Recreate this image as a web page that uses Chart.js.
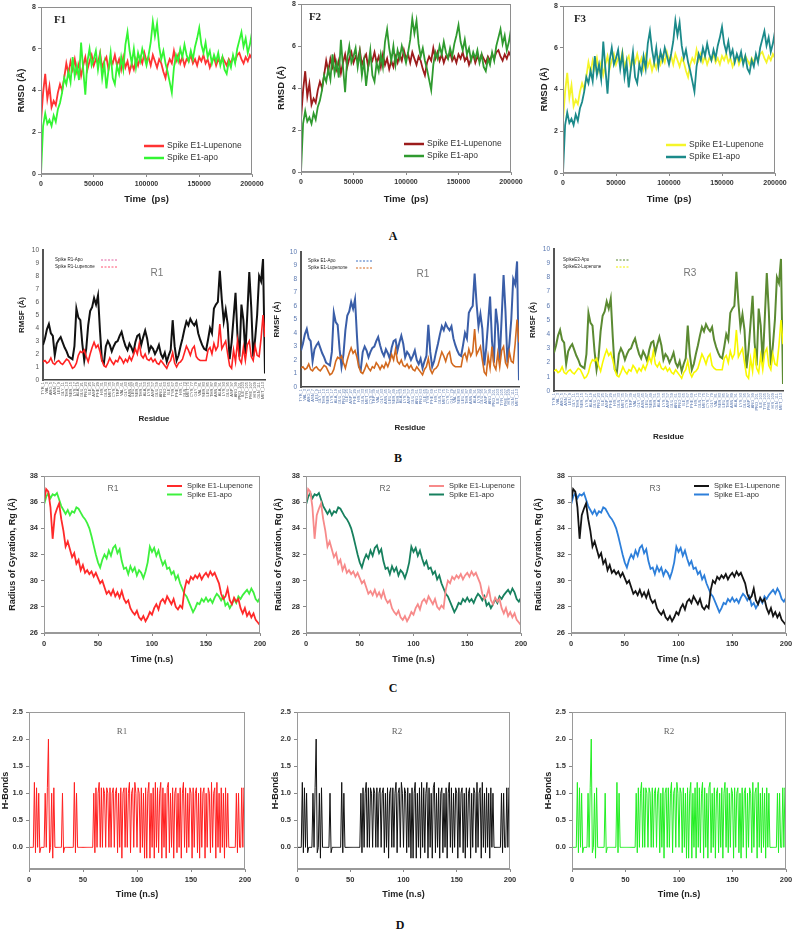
<!DOCTYPE html>
<html>
<head>
<meta charset="utf-8">
<script src="https://cdn.jsdelivr.net/npm/chart.js@4"></script>
<style>
  body { margin: 0; background: #fff; width: 800px; height: 941px; position: relative; overflow: hidden; }
  canvas { position: absolute; }
  .fig { position: absolute; font-family: "Liberation Serif", serif; font-weight: bold; font-size: 12px; color: #111; transform: translate(-50%, -50%); }
</style>
</head>
<body>
<div class="fig" style="left:393px;top:236px">A</div>
<div class="fig" style="left:398px;top:458px">B</div>
<div class="fig" style="left:393px;top:688px">C</div>
<div class="fig" style="left:400px;top:925px">D</div>
<script>
// ---- RMSD (ps), one value every 2000 ps
const rmsdStep = 2000;
const rmsdLupenone = [
  2.5, 3.9, 4.8, 3.6, 4.2, 3.2, 3.5, 3.3, 3.9, 4.3,
  4.0, 4.6, 5.3, 4.8, 5.4, 5.0, 5.5, 4.9, 5.3, 4.7,
  5.2, 5.6, 5.0, 5.4, 5.7, 5.2, 5.5, 5.3, 5.8, 5.1,
  5.4, 5.6, 5.0, 5.5, 5.3, 5.7, 5.2, 5.5, 5.0, 5.6,
  5.1, 5.4, 4.9, 5.3, 5.0, 5.5, 5.2, 5.6, 5.3, 5.8,
  5.4, 5.6, 5.2, 5.7, 5.4, 5.1, 5.5, 5.3, 4.9, 4.6,
  5.2, 5.5, 5.3, 5.9, 5.4, 5.7, 5.3, 5.6, 5.2, 5.5,
  5.4, 5.7, 5.3, 5.5, 5.2, 5.6, 5.4, 5.7, 5.3, 5.5,
  5.1, 5.4, 5.6, 5.2, 5.5, 5.3, 5.6, 5.4, 5.2, 5.5,
  5.3, 5.6, 5.4, 5.7, 5.8, 5.5, 5.3, 5.6, 5.4, 5.7,
  5.5
];
const rmsdApo = [
  0.0, 2.3, 2.9, 2.4, 2.6, 2.3, 2.8, 2.5, 3.1, 3.4,
  3.9, 4.6, 4.3, 4.9, 4.4, 5.6, 4.7, 5.2, 4.5, 6.3,
  5.0, 3.8, 5.4, 6.0, 5.2, 5.5, 5.9, 5.0, 5.7, 4.6,
  5.3, 4.1, 5.0, 5.8, 4.6, 4.3, 5.2, 4.8, 5.6, 5.0,
  6.2, 6.8, 5.9, 5.3, 6.0, 5.1, 5.8, 5.4, 6.0, 5.6,
  5.2, 5.7, 6.3, 7.3, 6.6, 7.2, 6.1, 5.5, 5.9, 5.3,
  4.9, 4.4, 3.9, 5.1, 5.7, 5.4, 6.0, 5.6, 6.2, 5.7,
  5.4, 5.9, 5.5, 6.1, 6.5, 7.0, 6.2, 5.8, 6.3, 5.6,
  5.9, 5.3, 5.7, 5.4, 5.8, 5.2, 5.6, 5.0, 4.8, 5.4,
  5.1, 5.7, 5.3, 6.0, 6.4, 6.8, 6.1, 6.5, 5.8, 6.2,
  6.8
];
const rmsdTimeTicks = [0, 50000, 100000, 150000, 200000];
const rmsdTicks = [0, 2, 4, 6, 8];

// ---- RMSF per residue
const residueNames = [
  'TYR_1', 'VAL_3', 'ARG_5', 'ASN_7', 'LEU_9', 'GLY_11', 'THR_13', 'SER_15', 'LYS_17', 'ALA_19',
  'GLU_21', 'PRO_23', 'ILE_25', 'ASP_27', 'PHE_29', 'HIS_31', 'GLN_33', 'MET_35', 'CYS_37', 'TRP_39',
  'VAL_41', 'GLY_43', 'ASN_45', 'LEU_47', 'SER_49', 'THR_51', 'ALA_53', 'LYS_55', 'ASP_57', 'GLU_59',
  'ARG_61', 'PRO_63', 'ILE_65', 'TYR_67', 'PHE_69', 'HIS_71', 'GLN_73', 'MET_75', 'CYS_77', 'GLY_79',
  'VAL_81', 'SER_83', 'LEU_85', 'THR_87', 'ASN_89', 'ALA_91', 'LYS_93', 'GLU_95', 'ASP_97', 'ARG_99',
  'PRO_101', 'ILE_103', 'TYR_105', 'PHE_107', 'HIS_109', 'GLN_111', 'MET_113'
];
const rmsfApo = [
  2.7, 3.2, 3.9, 4.3, 3.6, 3.4, 1.9, 2.8, 3.1, 3.3,
  2.9, 2.5, 2.2, 1.8, 1.7, 1.6, 2.6, 5.5, 4.8, 4.6,
  2.8, 1.5, 2.4, 4.2, 5.3, 5.6, 6.3, 5.8, 6.5, 3.8,
  1.5, 1.3, 2.6, 3.0, 2.7, 2.2, 2.6, 2.9, 3.0, 3.4,
  3.7, 3.1, 2.6, 2.3, 2.8, 2.5, 2.1, 2.9, 3.4, 3.5,
  2.7, 3.3, 3.8, 3.2, 2.2, 2.6, 2.4, 2.0, 2.3, 2.7,
  2.0, 1.7, 2.1, 1.4, 1.9, 2.3, 4.6, 2.6, 1.5, 1.9,
  2.6, 3.2, 3.9, 4.5, 4.2, 4.7, 4.4, 4.2, 4.5, 3.6,
  3.1, 2.7, 2.4, 2.3, 3.1, 4.0, 3.6, 5.5, 5.8, 6.0,
  8.4, 6.2, 4.5, 5.4, 4.3, 1.6, 2.9, 4.8, 6.7, 3.4,
  1.8, 5.8, 4.6, 2.0, 5.1, 8.3, 5.6, 1.8, 3.2, 5.0,
  8.0, 7.6, 9.3, 0.5
];
const rmsfLupenone = [
  1.4, 1.5, 1.3, 1.4, 1.7, 1.3, 1.2, 1.4, 1.5, 1.3,
  1.2, 1.4, 1.6, 1.5, 1.2, 0.9, 1.0, 1.3, 1.9, 2.2,
  2.1, 2.3, 1.8, 1.4, 2.0, 2.5, 2.9, 2.5, 2.7, 2.2,
  1.5, 1.1, 1.0, 1.3, 1.7, 1.4, 1.2, 1.5, 1.4, 1.8,
  1.6, 1.3, 1.6, 1.4, 1.8, 1.5, 1.9, 2.4, 2.0, 2.8,
  1.9, 1.7, 2.0, 1.6, 1.5, 1.7, 1.4, 1.6, 1.3, 1.2,
  1.5, 1.3, 1.1, 0.9, 1.3, 1.5, 2.1, 1.3, 1.0, 1.3,
  1.4, 1.6, 2.1, 2.6, 2.3, 1.9, 2.4, 2.6, 1.8, 1.6,
  1.5, 1.5, 1.5, 1.5, 2.3, 2.5, 2.0, 2.8, 2.3, 2.6,
  4.3, 2.4, 2.7, 3.0, 2.0, 1.1, 0.9, 2.3, 1.4, 3.0,
  1.6, 1.3, 2.5, 1.5, 2.7, 3.0, 1.8, 1.5, 2.6, 1.9,
  1.8, 3.2, 5.0, 3.3
];
const rmsfTicks = [0, 1, 2, 3, 4, 5, 6, 7, 8, 9, 10];

// ---- Radius of gyration (n.s), one value every 2 ns
const rgStep = 2;
const rgLupenone = [
  36.0, 37.0, 36.8, 35.6, 33.2, 35.0, 35.5, 35.9, 34.7, 33.8,
  32.6, 33.0, 32.4, 31.8, 32.1, 31.3, 31.6, 30.8, 31.2, 30.6,
  30.8, 30.5, 30.7, 30.3, 30.6, 30.2, 29.8, 30.0, 29.5, 29.0,
  29.2, 28.9, 29.3, 28.8, 29.1, 28.7, 29.2, 28.6, 28.3, 28.5,
  27.9, 27.6, 27.4, 27.7, 27.2, 27.0, 27.3, 26.9, 27.2, 27.6,
  27.4, 27.9, 28.2, 27.8, 28.4, 28.6, 28.3, 28.8, 28.5, 28.2,
  28.6, 28.0, 27.8, 28.1, 27.9, 29.3, 30.0, 29.8, 30.3, 30.1,
  30.4, 30.2, 30.5, 30.1, 30.4, 30.6, 30.3, 30.7, 30.4, 30.6,
  30.2, 29.8, 29.0, 28.6, 28.8, 29.4, 28.5, 28.2, 28.7, 28.4,
  28.6, 27.9, 27.5, 27.9, 27.3, 27.6, 27.2, 27.5, 27.0, 26.8,
  26.6
];
const rgApo = [
  35.8, 36.4, 36.7, 36.3, 36.6, 36.5, 36.7, 36.2, 35.7, 35.4,
  35.1, 35.4, 35.0, 35.3, 35.2, 35.6, 35.5, 35.2, 34.9, 34.7,
  34.4, 34.0, 33.4, 32.7, 32.0, 31.4, 31.0, 31.6, 32.0, 31.7,
  32.3, 31.9, 32.5, 32.7, 32.1, 32.4, 31.5, 30.9, 31.0, 30.5,
  31.1, 30.7, 31.0, 30.4, 30.8, 30.6, 30.2, 30.7, 31.4, 32.6,
  32.2, 32.5, 31.9, 32.3, 31.7, 31.2, 31.5, 30.9, 31.0, 30.5,
  30.7, 30.1, 30.4, 29.8, 29.4, 29.0, 28.8, 28.4, 28.0, 27.6,
  27.9, 28.3, 28.2, 28.6, 28.4, 28.7, 28.4, 28.6, 28.3, 28.7,
  29.0, 28.8, 28.5, 28.8, 28.1, 28.3, 27.9, 28.2, 28.6, 28.3,
  28.8, 28.6, 28.9, 29.1, 29.3, 29.0, 29.4, 29.1, 28.6, 28.4,
  28.7
];
const rgTimeTicks = [0, 50, 100, 150, 200];
const rgTicks = [26, 28, 30, 32, 34, 36, 38];

// ---- H-bonds (n.s), one value every 1 ns
const hbStep = 1;
const hbonds = [
  0, 0, 0, 0, 0, 1.2, -0.1, 1.1, 0, 1.0,
  -0.1, 0, 0, 0, 0, 1.0, 0, 1.1, 2.0, -0.1,
  0, 1.0, -0.2, 1.1, 0, 0, 0, 0, 0, 0,
  0, 1.0, -0.1, 0, 0, 0, 0, 0, 0, 0,
  0, 0, 1.2, -0.1, 1.0, 0, 0, 0, 0, 0,
  0, 0, 0, 0, 0, 0, 0, 0, 0, 0,
  1.0, -0.1, 1.1, 0, 1.0, 1.2, 0, 1.1, 0, 1.1,
  1.0, 0, 1.1, 1.0, 0, 1.1, 0, 1.0, 1.1, 0,
  1.0, 1.1, -0.1, 1.0, 0, 1.1, -0.2, 1.0, 1.1, 0,
  1.1, 0, 1.0, 1.2, -0.1, 1.0, 1.1, 0, 1.2, 1.0,
  0, 1.1, 1.0, -0.1, 1.1, 0, 1.0, -0.2, 1.1, -0.2,
  1.0, 1.2, -0.2, 1.0, 0, 1.1, -0.2, 1.2, 0, 1.1,
  -0.1, 1.0, 1.2, -0.2, 1.1, 0, 1.0, -0.2, 1.1, 1.2,
  -0.1, 1.0, 0, 1.1, -0.2, 1.0, 1.1, -0.1, 1.0, 0,
  1.1, -0.2, 1.0, 1.2, 0, 1.1, -0.1, 1.0, 0, 1.1,
  1.0, -0.2, 1.1, 0, 1.0, 1.1, -0.1, 1.0, -0.2, 1.1,
  0, 1.0, 1.1, -0.2, 1.0, 0, 1.1, 1.0, -0.1, 1.2,
  0, 1.0, 1.1, -0.2, 1.2, 0, 1.0, -0.1, 1.1, 0,
  1.0, -0.2, 1.1, 0, 1.0, 0, 0, 0, 0, 0,
  0, 0, 1.0, -0.1, 1.0, 0, 0, 1.1, 0, 1.1,
  1.0
];
const hbTimeTicks = [0, 50, 100, 150, 200];
const hbTicks = [0, 0.5, 1.0, 1.5, 2.0, 2.5];

const SANS = '"Liberation Sans", Arial, sans-serif';
const SERIF = '"Liberation Serif", "Times New Roman", serif';

function toPoints(values, step) {
  return values.map((v, i) => ({ x: i * step, y: v }));
}

// frame, panel tag and in-plot legend
const deco = {
  id: 'deco',
  afterDatasetsDraw(chart, args, o) {
    const ctx = chart.ctx, a = chart.chartArea;
    ctx.save();
    if (o.frame) {
      ctx.strokeStyle = o.frame;
      ctx.lineWidth = 1;
      ctx.strokeRect(a.left + 0.5, a.top + 0.5, a.right - a.left - 1, a.bottom - a.top - 1);
    }
    if (o.tag) {
      ctx.font = o.tag.font;
      ctx.fillStyle = o.tag.color;
      ctx.textAlign = 'center';
      ctx.textBaseline = 'middle';
      ctx.fillText(o.tag.text, a.left + o.tag.x, a.top + o.tag.y);
    }
    if (o.legend) {
      const lg = o.legend;
      lg.items.forEach((it, k) => {
        const y = a.top + lg.y + k * lg.gap;
        ctx.strokeStyle = it.color;
        ctx.lineWidth = lg.lineWidth;
        ctx.setLineDash(lg.dash || []);
        ctx.beginPath();
        ctx.moveTo(a.left + lg.x0, y);
        ctx.lineTo(a.left + lg.x1, y);
        ctx.stroke();
        ctx.setLineDash([]);
        ctx.font = lg.font;
        ctx.fillStyle = lg.color;
        ctx.textAlign = 'left';
        ctx.textBaseline = 'middle';
        ctx.fillText(it.text, a.left + lg.tx, y);
      });
    }
    ctx.restore();
  }
};

function axis(cfg, size, horizontal) {
  return {
    type: 'linear',
    min: cfg.min, max: cfg.max,
    afterFit: s => { if (horizontal) s.height = size; else s.width = size; },
    afterBuildTicks: s => { s.ticks = cfg.ticks.map(v => ({ value: v })); },
    ticks: {
      autoSkip: false,
      font: cfg.tickFont,
      color: cfg.tickColor || '#333',
      padding: cfg.tickPad == null ? 2 : cfg.tickPad,
      minRotation: cfg.rot || 0,
      maxRotation: cfg.rot || 0,
      callback: cfg.fmt || (v => String(v))
    },
    grid: { display: true, drawOnChartArea: false, drawTicks: cfg.tickLen > 0, tickLength: cfg.tickLen || 0, color: cfg.tickMark || '#888' },
    border: { display: true, color: cfg.line || '#999', width: cfg.lineWidth || 1 },
    title: { display: true, text: cfg.title, font: cfg.titleFont, color: '#222', padding: 0 }
  };
}

function makePanel(p) {
  const c = document.createElement('canvas');
  c.width = p.R - p.L + p.l + p.r;
  c.height = p.B - p.T + p.t + p.b;
  c.style.left = (p.L - p.l) + 'px';
  c.style.top = (p.T - p.t) + 'px';
  document.body.appendChild(c);
  new Chart(c, {
    type: 'line',
    data: { datasets: p.datasets },
    options: {
      responsive: false,
      animation: false,
      devicePixelRatio: 1,
      layout: { autoPadding: false, padding: { top: p.t, right: p.r, left: 0, bottom: 0 } },
      elements: { point: { radius: 0 }, line: { tension: 0 } },
      plugins: { legend: { display: false }, tooltip: { enabled: false }, deco: p.deco },
      scales: { x: axis(p.x, p.b, true), y: axis(p.y, p.l, false) }
    },
    plugins: [deco]
  });
}

function line(values, step, color, width) {
  return { data: toPoints(values, step), borderColor: color, borderWidth: width, pointRadius: 0, fill: false };
}

// ---- row A: RMSD
const tickFontA = { family: SANS, size: 7, weight: 'bold' };
const titleFontA = { family: SANS, size: 9.5, weight: 'bold' };
const rmsdPanels = [
  { L: 41, T: 7, R: 252, B: 174, l: 25, b: 31, tag: 'F1', tx: 19, colors: ['#ff3333', '#33f533'] },
  { L: 301, T: 4, R: 511, B: 172, l: 25, b: 33, tag: 'F2', tx: 14, colors: ['#9c1c1c', '#2f9a2f'] },
  { L: 563, T: 6, R: 775, B: 173, l: 24, b: 32, tag: 'F3', tx: 17, colors: ['#f5f52a', '#1b8a8a'] }
];
rmsdPanels.forEach(p => {
  const h = p.B - p.T;
  makePanel({
    L: p.L, T: p.T, R: p.R, B: p.B, l: p.l, t: 8, r: 20, b: p.b,
    datasets: [line(rmsdApo, rmsdStep, p.colors[1], 1.8), line(rmsdLupenone, rmsdStep, p.colors[0], 1.8)],
    x: { min: 0, max: 200000, ticks: rmsdTimeTicks, tickFont: tickFontA, tickLen: 3, tickPad: 3, title: 'Time  (ps)', titleFont: titleFontA },
    y: { min: 0, max: 8, ticks: rmsdTicks, tickFont: tickFontA, tickLen: 3, tickPad: 2, title: 'RMSD (Å)', titleFont: titleFontA },
    deco: {
      frame: '#8e8e8e',
      tag: { text: p.tag, x: p.tx, y: 13, font: 'bold 11px ' + SERIF, color: '#222' },
      legend: {
        x0: 103, x1: 123, tx: 126, y: h - 28, gap: 12, lineWidth: 2.5,
        font: '8.5px ' + SANS, color: '#333',
        items: [{ text: 'Spike E1-Lupenone', color: p.colors[0] }, { text: 'Spike E1-apo', color: p.colors[1] }]
      }
    }
  });
});

// ---- row B: RMSF
const rmsfPanels = [
  { L: 43, T: 250, R: 265, B: 380, l: 26, b: 44, tag: 'R1', tagX: 114, tagY: 23, tickColor: '#555',
    colors: ['#111111', '#ff2222'], legendColors: ['#e060a0', '#ff5070'],
    names: ['Spike R1-Apo', 'Spike R1-Lupenone'], lg: { tx: 12, x0: 58, x1: 75, y: 10 } },
  { L: 301, T: 252, R: 519, B: 387, l: 29, b: 46, tag: 'R1', tagX: 122, tagY: 22, tickColor: '#5a78b0',
    colors: ['#3a5ea8', '#d2691e'], legendColors: ['#3a6fc0', '#d2691e'],
    names: ['Spike E1-Apo', 'Spike E1-Lupenone'], lg: { tx: 7, x0: 55, x1: 72, y: 9 } },
  { L: 554, T: 249, R: 783, B: 391, l: 26, b: 51, tag: 'R3', tagX: 136, tagY: 24, tickColor: '#5a78b0',
    colors: ['#5b8a32', '#f8f800'], legendColors: ['#5b8a32', '#f0f000'],
    names: ['SpikeE3-Apo', 'SpikeE3-Lupenone'], lg: { tx: 9, x0: 62, x1: 76, y: 11 } }
];
const residueTickIdx = residueNames.map((n, k) => k * 2);
rmsfPanels.forEach(p => {
  makePanel({
    L: p.L, T: p.T, R: p.R, B: p.B, l: p.l, t: 8, r: 12, b: p.b,
    datasets: [line(rmsfLupenone, 1, p.colors[1], 1.6), line(rmsfApo, 1, p.colors[0], 2)],
    x: { min: 0, max: 113, ticks: residueTickIdx, rot: 90, tickFont: { family: SANS, size: 4 }, tickColor: p.tickColor,
         tickPad: 2, line: '#444', lineWidth: 1.5, fmt: v => residueNames[v / 2],
         title: 'Residue', titleFont: { family: SANS, size: 8, weight: 'bold' } },
    y: { min: 0, max: 10, ticks: rmsfTicks, tickFont: { family: SANS, size: 6.5 }, tickColor: p.tickColor, tickPad: 4,
         line: '#555', lineWidth: 2, title: 'RMSF (Å)', titleFont: { family: SANS, size: 8, weight: 'bold' } },
    deco: {
      tag: { text: p.tag, x: p.tagX, y: p.tagY, font: '10px ' + SANS, color: '#777' },
      legend: {
        x0: p.lg.x0, x1: p.lg.x1, tx: p.lg.tx, y: p.lg.y, gap: 7, lineWidth: 1, dash: [2, 1.5],
        font: '4.5px ' + SANS, color: '#222',
        items: [{ text: p.names[0], color: p.legendColors[0] }, { text: p.names[1], color: p.legendColors[1] }]
      }
    }
  });
});

// ---- row C: radius of gyration
const tickFontC = { family: SANS, size: 7.5, weight: 'bold' };
const titleFontC = { family: SANS, size: 9, weight: 'bold' };
const rgPanels = [
  { L: 44, R: 260, l: 37, tag: 'R1', tagX: 69, colors: ['#ff2a2a', '#3ef03e'] },
  { L: 306, R: 521, l: 33, tag: 'R2', tagX: 79, colors: ['#f78a8a', '#17805e'] },
  { L: 571, R: 786, l: 38, tag: 'R3', tagX: 84, colors: ['#141414', '#2d7fda'] }
];
rgPanels.forEach(p => {
  makePanel({
    L: p.L, T: 476, R: p.R, B: 633, l: p.l, t: 8, r: 14, b: 32,
    datasets: [line(rgLupenone, rgStep, p.colors[0], 1.8), line(rgApo, rgStep, p.colors[1], 1.8)],
    x: { min: 0, max: 200, ticks: rgTimeTicks, tickFont: tickFontC, tickLen: 3, tickPad: 3, title: 'Time (n.s)', titleFont: titleFontC },
    y: { min: 26, max: 38, ticks: rgTicks, tickFont: tickFontC, tickLen: 3, tickPad: 3, title: 'Radius of Gyration, Rg (Å)', titleFont: titleFontC },
    deco: {
      frame: '#9a9a9a',
      tag: { text: p.tag, x: p.tagX, y: 13, font: '8.5px ' + SANS, color: '#666' },
      legend: {
        x0: 123, x1: 138, tx: 143, y: 10, gap: 8.5, lineWidth: 2,
        font: '7.5px ' + SANS, color: '#333',
        items: [{ text: 'Spike E1-Lupenone', color: p.colors[0] }, { text: 'Spike E1-apo', color: p.colors[1] }]
      }
    }
  });
});

// ---- row D: H-bonds
const hbPanels = [
  { L: 29, R: 245, l: 29, tag: 'R1', tagX: 93, color: '#ff1f1f' },
  { L: 297, R: 510, l: 27, tag: 'R2', tagX: 100, color: '#111111' },
  { L: 572, R: 786, l: 29, tag: 'R2', tagX: 97, color: '#22ee22' }
];
hbPanels.forEach(p => {
  makePanel({
    L: p.L, T: 712, R: p.R, B: 869, l: p.l, t: 8, r: 14, b: 31,
    datasets: [line(hbonds, hbStep, p.color, 1)],
    x: { min: 0, max: 200, ticks: hbTimeTicks, tickFont: tickFontC, tickLen: 3, tickPad: 3, title: 'Time (n.s)', titleFont: titleFontC },
    y: { min: -0.4, max: 2.5, ticks: hbTicks, tickFont: tickFontC, tickLen: 3, tickPad: 3, fmt: v => v.toFixed(1), title: 'H-Bonds', titleFont: titleFontC },
    deco: {
      frame: '#9a9a9a',
      tag: { text: p.tag, x: p.tagX, y: 20, font: '9px ' + SERIF, color: '#666' }
    }
  });
});
</script>
</body>
</html>
